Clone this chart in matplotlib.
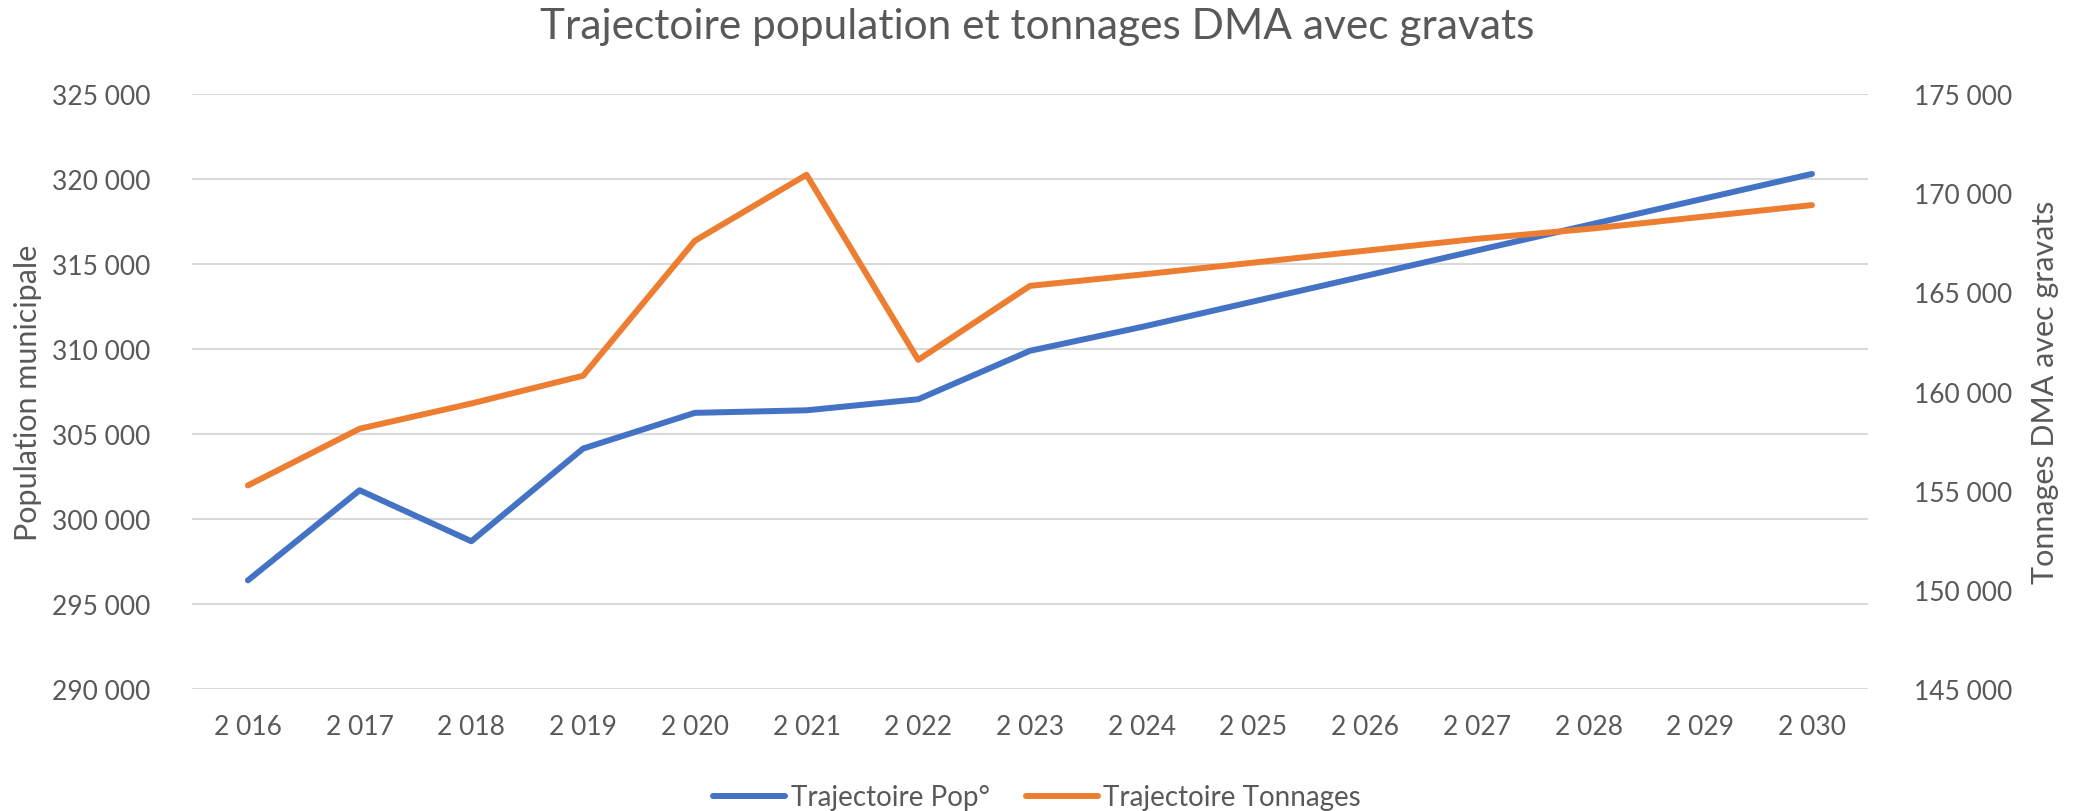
import matplotlib
matplotlib.use("Agg")
import matplotlib.pyplot as plt
from matplotlib.ticker import FuncFormatter, MultipleLocator
from matplotlib.lines import Line2D

years = [2016, 2017, 2018, 2019, 2020, 2021, 2022, 2023, 2024, 2025, 2026, 2027, 2028, 2029, 2030]
population = [296400, 301700, 298700, 304150, 306250, 306400, 307050, 309900,
              311300, 312800, 314300, 315800, 317300, 318800, 320300]
tonnages = [155270, 158130, 159400, 160800, 167600, 170930, 161600, 165330,
            165900, 166500, 167100, 167700, 168200, 168800, 169400]

title = "Trajectoire population et tonnages DMA avec gravats"
left_label = "Population municipale"
right_label = "Tonnages DMA avec gravats"
series_names = ["Trajectoire Pop°", "Trajectoire Tonnages"]

BLUE = "#4472C4"
ORANGE = "#ED7D31"
GREY = "#595959"
GRID = "#D9D9D9"
FONT = "Lato"

plt.rcParams['font.family'] = [FONT, 'DejaVu Sans']

fig = plt.figure(figsize=(20.74, 8.12), dpi=100)
ax = fig.add_axes([0.0926, 0.150, 0.808, 0.733])
ax2 = ax.twinx()

def fmt_space(v, pos=None):
    return f"{int(round(v)):,}".replace(",", " ")

x = list(range(len(years)))
ax.plot(x, population, color=BLUE, lw=4.3, solid_capstyle="round", solid_joinstyle="round", zorder=3)
ax2.plot(x, tonnages, color=ORANGE, lw=4.3, solid_capstyle="round", solid_joinstyle="round", zorder=3)

ax.set_xlim(-0.5, len(years) - 0.5)
ax.set_ylim(290000, 325000)
ax.yaxis.set_major_locator(MultipleLocator(5000))
ax.yaxis.set_major_formatter(FuncFormatter(fmt_space))
ax2.set_ylim(145000, 175000)
ax2.yaxis.set_major_locator(MultipleLocator(5000))
ax2.yaxis.set_major_formatter(FuncFormatter(fmt_space))

ax.set_xticks(x)
ax.set_xticklabels([fmt_space(y) for y in years])

ax.grid(axis="y", color=GRID, lw=1.5)
ax.set_axisbelow(True)
for a in (ax, ax2):
    for s in a.spines.values():
        s.set_visible(False)
    a.tick_params(length=0, colors=GREY, labelsize=19)
ax.tick_params(axis="y", pad=30)
ax.tick_params(axis="x", pad=18)
ax2.tick_params(axis="y", pad=33)
for lab in ax2.get_yticklabels():
    lab.set_horizontalalignment("left")

ax.set_ylabel(left_label, color=GREY, fontsize=22, labelpad=7)
ax2.set_ylabel(right_label, color=GREY, fontsize=22, labelpad=14)

fig.suptitle(title, color=GREY, fontsize=30.5, y=0.99)

handles = [Line2D([0], [0], color=BLUE, lw=4.3, solid_capstyle="round"),
           Line2D([0], [0], color=ORANGE, lw=4.3, solid_capstyle="round")]
fig.legend(handles, series_names, loc="lower center", bbox_to_anchor=(0.5, -0.03),
           ncol=2, frameon=False, fontsize=20, labelcolor=GREY, handlelength=2.6,
           handletextpad=0.2, columnspacing=1.3)

fig.savefig("out.png", dpi=100)
